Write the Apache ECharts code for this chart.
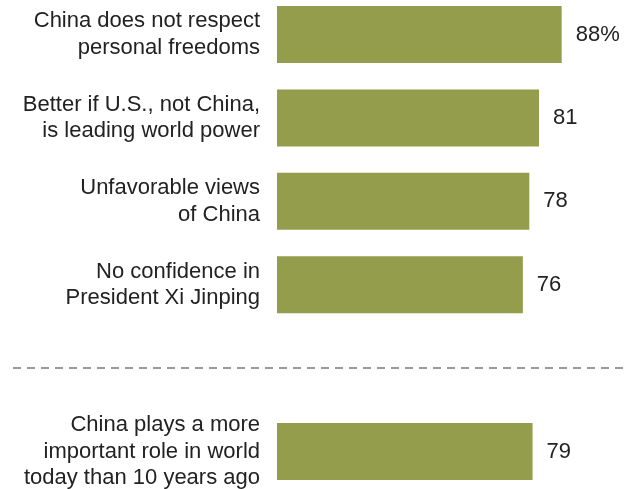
<!DOCTYPE html>
<html>
<head>
<meta charset="utf-8">
<script src="https://cdn.jsdelivr.net/npm/echarts@6/dist/echarts.min.js"></script>
<style>
  html, body { margin: 0; padding: 0; background: #ffffff; }
  #chart { width: 629px; height: 489px; }
</style>
</head>
<body>
<div id="chart"></div>
<script>
// Survey items (an empty slot separates the last item with a dashed rule)
const categories = [
  'China does not respect\npersonal freedoms',
  'Better if U.S., not China,\nis leading world power',
  'Unfavorable views\nof China',
  'No confidence in\nPresident Xi Jinping',
  '',
  'China plays a more\nimportant role in world\ntoday than 10 years ago'
];
const values = [88, 81, 78, 76, null, 79];
const separatorIndex = 4;

const FONT = '"Liberation Sans", Arial, sans-serif';
const chart = echarts.init(document.getElementById('chart'));

chart.setOption({
  animation: false,
  grid: {
    left: 277, right: 28.5, top: -7.2, bottom: -4.2,
    containLabel: false,
    outerBoundsMode: 'none'
  },
  xAxis: {
    type: 'value', min: 0, max: 100, show: false
  },
  yAxis: {
    type: 'category',
    data: categories,
    inverse: true,
    axisLine: { show: false },
    axisTick: { show: false },
    axisLabel: {
      margin: 17,
      fontFamily: FONT,
      fontSize: 22,
      lineHeight: 26.5,
      color: '#222',
      align: 'right'
    }
  },
  series: [{
    type: 'bar',
    data: values,
    barWidth: 57,
    itemStyle: { color: '#949d4b' },
    label: {
      show: true,
      position: 'right',
      distance: 14,
      fontFamily: FONT,
      fontSize: 22,
      color: '#222',
      formatter: p => p.dataIndex === 0 ? p.value + '%' : String(p.value)
    }
  }]
});

// Dashed separator through the empty category slot
const ySep = chart.convertToPixel({ yAxisIndex: 0 }, categories[separatorIndex]);
chart.setOption({
  graphic: [{
    type: 'line',
    shape: { x1: 13, y1: ySep, x2: 625, y2: ySep },
    style: { stroke: '#9a9a9a', lineWidth: 2, lineDash: [8, 6] }
  }]
});
</script>
</body>
</html>
